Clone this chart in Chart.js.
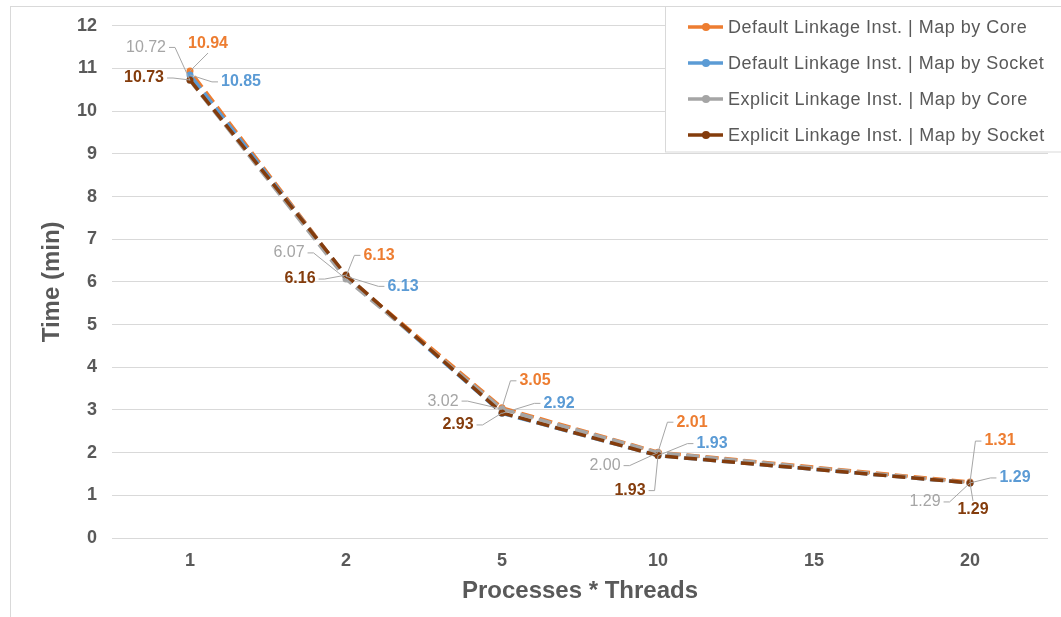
<!DOCTYPE html>
<html>
<head>
<meta charset="utf-8">
<script src="https://cdn.jsdelivr.net/npm/chart.js@4.4.1/dist/chart.umd.min.js"></script>
<style>
  html, body { margin: 0; padding: 0; background: #fff; overflow: hidden; }
</style>
</head>
<body>
<canvas id="myChart" width="1061" height="617"></canvas>
<script>
var threads = ["1", "2", "5", "10", "15", "20"];
var seriesNames = [
    "Default Linkage Inst. | Map by Core",
    "Default Linkage Inst. | Map by Socket",
    "Explicit Linkage Inst. | Map by Core",
    "Explicit Linkage Inst. | Map by Socket"
];
var defaultCore = [10.94, 6.13, 3.05, 2.01, null, 1.31];
var defaultSocket = [10.85, 6.13, 2.92, 1.93, null, 1.29];
var explicitCore = [10.72, 6.07, 3.02, 2.00, null, 1.29];
var explicitSocket = [10.73, 6.16, 2.93, 1.93, null, 1.29];

var seriesColors = ["#ED7D31", "#5B9BD5", "#A5A5A5", "#843C0C"];
var labelBold = [true, true, false, true];

// label position relative to its point, in px
var labelShift = [
    [[18, -27], [33, -21], [33, -27], [34, -30], null, [30, -41]],
    [[51, 7], [57, 10], [57, -10], [54, -12], null, [45, -5]],
    [[-44, -33], [-57, -26], [-59, -8], [-53, 13], null, [-45, 19]],
    [[-46, -2], [-46, 4], [-44, 12], [-28, 35], null, [3, 27]]
];

var FONT = "'Liberation Sans', Arial, sans-serif";
var TEXT = "#595959";

// shift each dash pattern so the dashes of all four lines line up
function dashPhase(ctx) {
    var c = ctx.chart, xs = c.scales.x, ys = c.scales.y;
    if (!xs || !ys) return 0;
    var ref = explicitSocket;
    var x0 = xs.getPixelForValue(0), x1 = xs.getPixelForValue(1);
    var r0 = ys.getPixelForValue(ref[0]), r1 = ys.getPixelForValue(ref[1]);
    var len = Math.hypot(x1 - x0, r1 - r0);
    if (!isFinite(len) || len === 0) return 0;
    var own = ys.getPixelForValue(c.data.datasets[ctx.datasetIndex].data[0]);
    var off = (own - r0) * (r1 - r0) / len;
    return isFinite(off) ? off : 0;
}

function makeSet(i, values) {
    return {
        label: seriesNames[i],
        data: values,
        borderColor: seriesColors[i],
        backgroundColor: seriesColors[i],
        pointBackgroundColor: seriesColors[i],
        pointBorderColor: seriesColors[i],
        pointBorderWidth: 0,
        pointRadius: 3.5,
        borderWidth: 3.5,
        borderDash: [13, 6],
        borderDashOffset: dashPhase,
        tension: 0,
        spanGaps: true,
        order: 3 - i
    };
}

// outer frame
var framePlugin = {
    id: "frame",
    beforeDraw: function (chart) {
        var ctx = chart.ctx;
        ctx.save();
        ctx.fillStyle = "#fff";
        ctx.fillRect(0, 0, chart.width, chart.height);
        ctx.strokeStyle = "#D9D9D9";
        ctx.lineWidth = 1;
        ctx.strokeRect(10.5, 6.5, 1100, 700);
        ctx.restore();
    }
};

// value labels with leader lines
var valueLabels = {
    id: "valueLabels",
    afterDatasetsDraw: function (chart) {
        var ctx = chart.ctx;
        ctx.save();
        chart.data.datasets.forEach(function (ds, i) {
            var meta = chart.getDatasetMeta(i);
            ctx.font = (labelBold[i] ? "bold " : "") + "16px " + FONT;
            ds.data.forEach(function (v, j) {
                if (v === null || !labelShift[i][j]) return;
                var p = meta.data[j];
                var txt = v.toFixed(2);
                var w = ctx.measureText(txt).width, h = 14;
                var dx = labelShift[i][j][0], dy = labelShift[i][j][1];
                var cx = p.x + dx, cy = p.y + dy;
                ctx.strokeStyle = "#A6A6A6";
                ctx.lineWidth = 1;
                ctx.beginPath();
                if (Math.abs(dx) > w / 2 + 4) {
                    var s = dx < 0 ? 1 : -1;
                    var sx = cx + s * (w / 2 + 3);
                    ctx.moveTo(sx, cy);
                    ctx.lineTo(sx + s * 6, cy);
                    ctx.lineTo(p.x, p.y);
                } else {
                    var vs = dy < 0 ? 1 : -1;
                    ctx.moveTo(cx, cy + vs * (h / 2 + 2));
                    ctx.lineTo(p.x, p.y);
                }
                ctx.stroke();
                ctx.fillStyle = seriesColors[i];
                ctx.textAlign = "center";
                ctx.textBaseline = "middle";
                ctx.fillText(txt, cx, cy);
            });
        });
        ctx.restore();
    }
};

// boxed legend in the top right corner
var boxLegend = {
    id: "boxLegend",
    afterDraw: function (chart) {
        var ctx = chart.ctx;
        ctx.save();
        ctx.fillStyle = "#fff";
        ctx.fillRect(665.5, 6.5, 500, 145.5);
        ctx.strokeStyle = "#D9D9D9";
        ctx.lineWidth = 1;
        ctx.strokeRect(665.5, 6.5, 500, 145.5);
        ctx.font = "18px " + FONT;
        ctx.letterSpacing = "0.5px";
        ctx.textBaseline = "middle";
        ctx.textAlign = "left";
        seriesNames.forEach(function (name, i) {
            var y = 27 + i * 36;
            ctx.strokeStyle = seriesColors[i];
            ctx.lineWidth = 3.5;
            ctx.beginPath();
            ctx.moveTo(688, y);
            ctx.lineTo(723, y);
            ctx.stroke();
            ctx.fillStyle = seriesColors[i];
            ctx.beginPath();
            ctx.arc(706, y, 4, 0, Math.PI * 2);
            ctx.fill();
            ctx.fillStyle = TEXT;
            ctx.fillText(name, 728, y + 1);
        });
        ctx.restore();
    }
};

var myChart = document.getElementById("myChart").getContext("2d");
var chart = new Chart(myChart, {
    type: "line",
    data: {
        labels: threads,
        datasets: [
            makeSet(0, defaultCore),
            makeSet(1, defaultSocket),
            makeSet(2, explicitCore),
            makeSet(3, explicitSocket)
        ]
    },
    options: {
        responsive: false,
        animation: false,
        devicePixelRatio: 1,
        layout: { padding: { left: 34, top: 24, right: 13, bottom: 7 } },
        plugins: {
            legend: { display: false },
            tooltip: { enabled: false }
        },
        scales: {
            x: {
                offset: true,
                grid: { display: false, drawTicks: false },
                border: { display: false },
                ticks: {
                    color: TEXT,
                    padding: 12,
                    font: { family: FONT, size: 18, weight: "bold" }
                },
                title: {
                    display: true,
                    text: "Processes * Threads",
                    color: TEXT,
                    font: { family: FONT, size: 24, weight: "bold" }
                },
                afterFit: function (scale) { scale.height = 72; }
            },
            y: {
                min: 0,
                max: 12,
                ticks: {
                    stepSize: 1,
                    color: TEXT,
                    padding: 15,
                    font: { family: FONT, size: 18, weight: "bold" }
                },
                grid: { color: "#D9D9D9", lineWidth: 1, drawTicks: false },
                border: { display: false },
                title: {
                    display: true,
                    text: "Time (min)",
                    color: TEXT,
                    font: { family: FONT, size: 24, weight: "bold" }
                },
                afterFit: function (scale) { scale.width = 78; }
            }
        }
    },
    plugins: [framePlugin, valueLabels, boxLegend]
});
</script>
</body>
</html>
